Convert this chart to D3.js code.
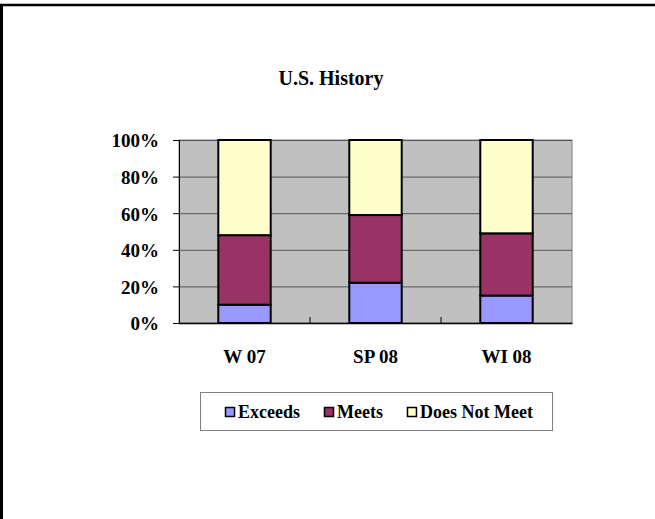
<!DOCTYPE html>
<html lang="en">
<head>
<meta charset="utf-8">
<title>U.S. History</title>
<script src="https://cdn.jsdelivr.net/npm/d3@7"></script>
<style>
  body { margin: 0; background: #fff; }
  svg text { font-family: "Liberation Serif", "Times New Roman", serif; font-weight: bold; fill: #000; }
</style>
</head>
<body>
<svg width="655" height="519"></svg>
<script>
// data
var categories = ["W 07", "SP 08", "WI 08"];
var seriesNames = ["Exceeds", "Meets", "Does Not Meet"];
var exceeds = [10, 22, 15];
var meets = [38, 37, 34];
var doesNotMeet = [52, 41, 51];
var yTicks = [0, 0.2, 0.4, 0.6, 0.8, 1];
var colors = ["#9999ff", "#993366", "#ffffcc"];

var svg = d3.select("svg");

// frame (only top and left edges visible)
svg.append("line").attr("x1", 0).attr("x2", 655).attr("y1", 5).attr("y2", 5)
    .attr("stroke", "#000").attr("stroke-width", 2.5);
svg.append("line").attr("x1", 1.5).attr("x2", 1.5).attr("y1", 4).attr("y2", 519)
    .attr("stroke", "#000").attr("stroke-width", 3);

var plotLeft = 179, plotRight = 572, plotTop = 140, plotBottom = 323;

var x = d3.scaleBand().domain(categories).range([plotLeft, plotRight])
    .paddingInner(0.6).paddingOuter(0.3);
var y = d3.scaleLinear().domain([0, 1]).range([plotBottom, plotTop]);

// plot area
svg.append("rect").attr("x", plotLeft).attr("y", plotTop)
    .attr("width", plotRight - plotLeft).attr("height", plotBottom - plotTop)
    .attr("fill", "#c0c0c0").attr("stroke", "#808080").attr("stroke-width", 1);

// gridlines
var grid = svg.append("g").attr("transform", "translate(" + plotLeft + ",0)")
    .call(d3.axisLeft(y).tickValues(yTicks.slice(1)).tickSize(-(plotRight - plotLeft)).tickFormat(""));
grid.select(".domain").remove();
grid.selectAll("line").attr("stroke", "#555").attr("stroke-width", 1);

// stacked data
var rows = categories.map(function(c, i) {
  return { cat: c, Exceeds: exceeds[i], Meets: meets[i], "Does Not Meet": doesNotMeet[i] };
});
var stack = d3.stack().keys(seriesNames).offset(d3.stackOffsetExpand);
var layers = stack(rows);

svg.append("g").selectAll("g")
  .data(layers)
  .enter().append("g")
    .attr("fill", function(d, i) { return colors[i]; })
  .selectAll("rect")
  .data(function(d) { return d; })
  .enter().append("rect")
    .attr("x", function(d) { return x(d.data.cat); })
    .attr("y", function(d) { return y(d[1]); })
    .attr("width", x.bandwidth())
    .attr("height", function(d) { return y(d[0]) - y(d[1]); })
    .attr("stroke", "#000")
    .attr("stroke-width", 2);

// y axis
var yAxis = svg.append("g").attr("transform", "translate(" + plotLeft + ",0)")
    .call(d3.axisLeft(y).tickValues(yTicks).tickSize(6).tickPadding(14).tickFormat(d3.format(".0%")));
yAxis.select(".domain").attr("stroke", "#000");
yAxis.selectAll("line").attr("stroke", "#000");
yAxis.selectAll("text").style("font-size", "19px").attr("dy", "0.36em");

// x axis
var xAxis = svg.append("g").attr("transform", "translate(0," + plotBottom + ")")
    .call(d3.axisBottom(x).tickSize(0).tickPadding(27));
xAxis.select(".domain").attr("stroke", "#000").attr("stroke-width", 1.5);
xAxis.selectAll("text").style("font-size", "19px");

// category divider ticks (pointing up into plot)
var gap = x.step() - x.bandwidth();
svg.append("g").selectAll("line")
  .data(categories.slice(0, -1))
  .enter().append("line")
    .attr("x1", function(d) { return x(d) + x.bandwidth() + gap / 2; })
    .attr("x2", function(d) { return x(d) + x.bandwidth() + gap / 2; })
    .attr("y1", plotBottom).attr("y2", plotBottom - 6)
    .attr("stroke", "#000");

// title
svg.append("text").attr("x", 331).attr("y", 85)
    .attr("text-anchor", "middle").style("font-size", "20px").text("U.S. History");

// legend
svg.append("rect").attr("x", 200.5).attr("y", 392.5).attr("width", 352).attr("height", 38)
    .attr("fill", "#fff").attr("stroke", "#808080");
var lx = 225;
seriesNames.forEach(function(name, i) {
  svg.append("rect").attr("x", lx + 0.5).attr("y", 407.5).attr("width", 9).attr("height", 9)
      .attr("fill", colors[i]).attr("stroke", "#000").attr("stroke-width", 1.5);
  var t = svg.append("text").attr("x", lx + 13).attr("y", 418)
      .style("font-size", "18px").text(name);
  lx = lx + 13 + t.node().getComputedTextLength() + 24;
});
</script>
</body>
</html>
